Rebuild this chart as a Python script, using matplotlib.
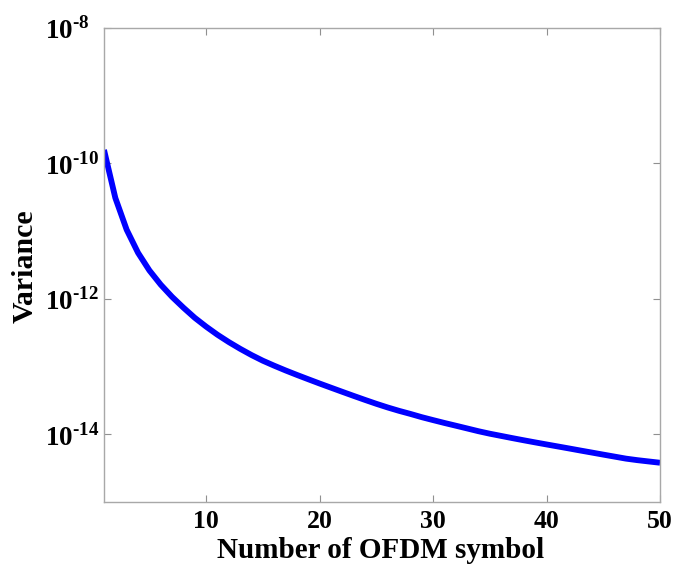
import matplotlib
matplotlib.use('Agg')
import matplotlib.pyplot as plt
from matplotlib.ticker import FixedLocator, FuncFormatter, NullLocator
import numpy as np

# symbol index and estimated variance per OFDM symbol
symbols = list(range(1, 51))
variance = [
    1.585e-10, 3.09e-11, 1.047e-11, 4.79e-12, 2.63e-12,
    1.62e-12, 1.07e-12, 7.41e-13, 5.25e-13, 3.89e-13,
    2.95e-13, 2.30e-13, 1.83e-13, 1.48e-13, 1.22e-13,
    1.03e-13, 8.77e-14, 7.53e-14, 6.50e-14, 5.62e-14,
    4.88e-14, 4.24e-14, 3.69e-14, 3.22e-14, 2.82e-14,
    2.49e-14, 2.22e-14, 2.00e-14, 1.79e-14, 1.62e-14,
    1.47e-14, 1.34e-14, 1.22e-14, 1.11e-14, 1.02e-14,
    9.46e-15, 8.77e-15, 8.15e-15, 7.59e-15, 7.08e-15,
    6.61e-15, 6.17e-15, 5.75e-15, 5.37e-15, 5.01e-15,
    4.68e-15, 4.37e-15, 4.15e-15, 3.97e-15, 3.80e-15,
]
xticks = [10, 20, 30, 40, 50]
yticks = [1e-14, 1e-12, 1e-10, 1e-8]

plt.rcParams['font.family'] = 'Liberation Serif'
plt.rcParams['font.weight'] = 'bold'
plt.rcParams['mathtext.fontset'] = 'custom'
plt.rcParams['mathtext.rm'] = 'Liberation Serif:bold'
plt.rcParams['mathtext.bf'] = 'Liberation Serif:bold'

fig = plt.figure(figsize=(6.78, 5.68), dpi=100)
ax = fig.add_axes([104 / 678, 1 - 502 / 568, 556 / 678, 474 / 568])

ax.plot(symbols, variance, color='#0000ff', lw=4.2, solid_capstyle='butt')

ax.set_yscale('log')
ax.set_xlim(1, 50)
ax.set_ylim(1e-15, 1e-8)

ax.xaxis.set_major_locator(FixedLocator(xticks))
ax.yaxis.set_major_locator(FixedLocator(yticks))
ax.yaxis.set_minor_locator(NullLocator())
# "10" with a hyphen-style exponent
ax.yaxis.set_major_formatter(
    FuncFormatter(lambda v, p: r'$10^{\text{-%d}}$' % abs(int(round(np.log10(v))))))

for s in ax.spines.values():
    s.set_color('#a8a8a8')
    s.set_linewidth(1.0)
ax.tick_params(direction='in', length=5, width=0.8, color='#909090',
               top=True, right=True)
ax.tick_params(axis='x', pad=6, labelsize=18.5)
ax.tick_params(axis='y', pad=42.5, labelsize=19.5)
for lbl in ax.get_yticklabels():
    lbl.set_ha('left')

fig.text(381 / 678, 1 - 550 / 568, 'Number of OFDM symbol', ha='center',
         va='center', fontsize=21, fontweight='bold')
fig.text(25 / 678, 1 - 266 / 568, 'Variance', ha='center', va='center',
         rotation=90, fontsize=21.5, fontweight='bold')

fig.savefig('out.png', dpi=100)
